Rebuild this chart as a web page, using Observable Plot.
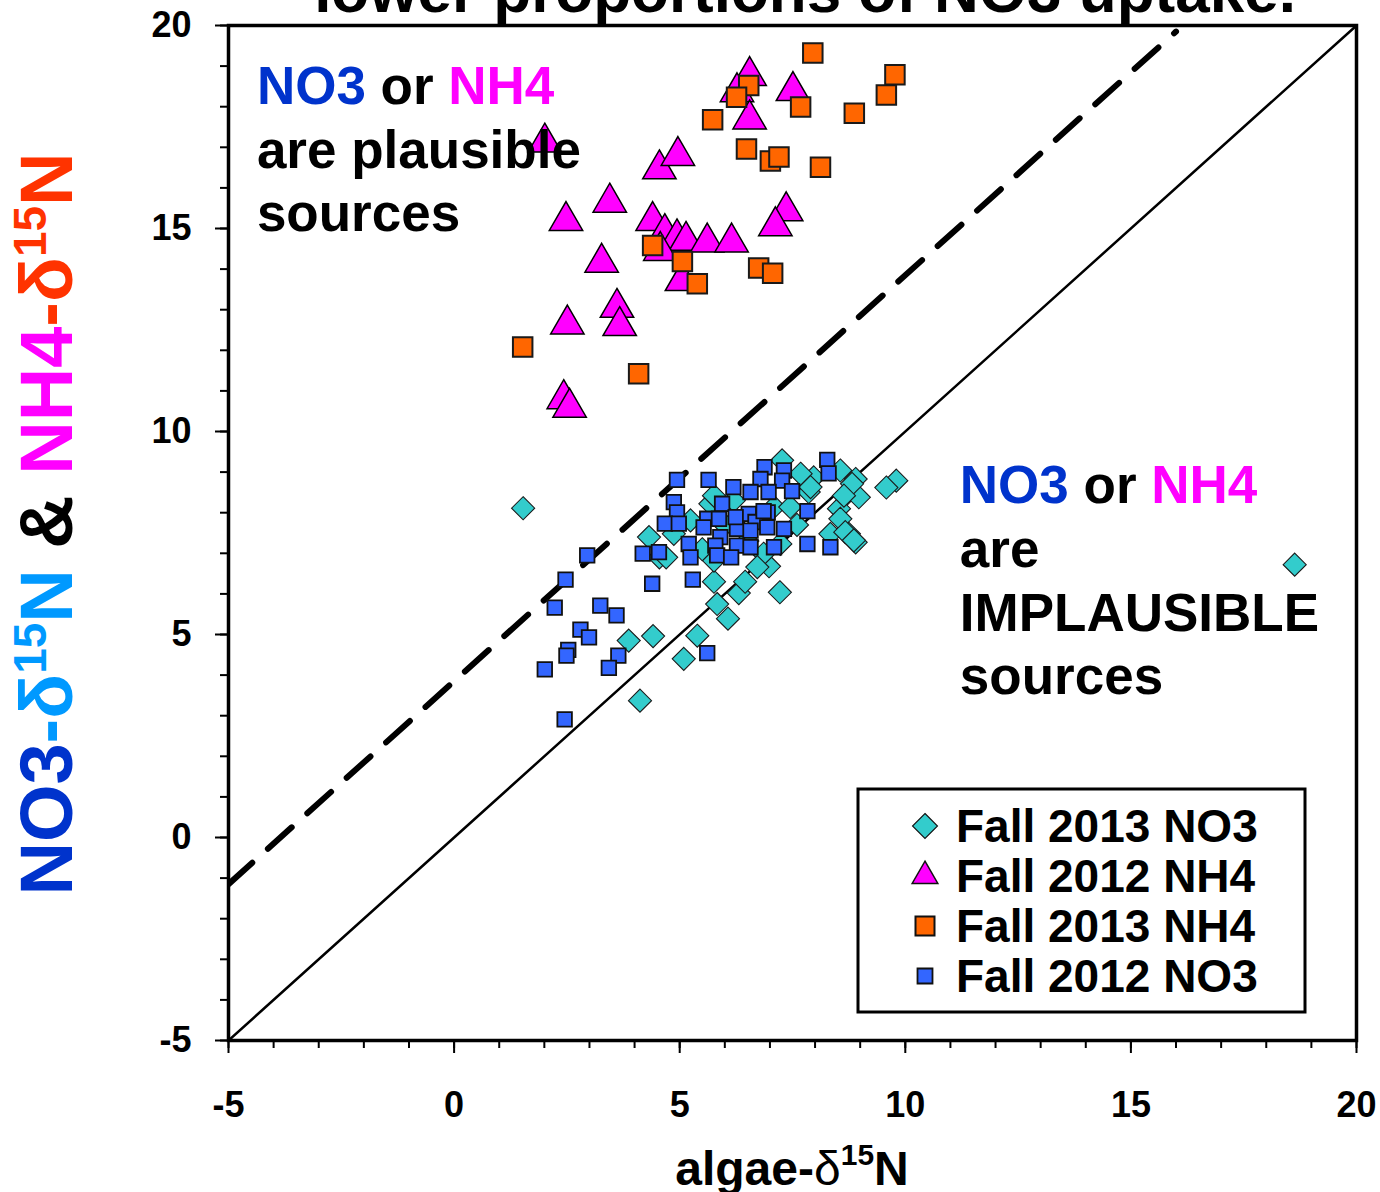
<!DOCTYPE html>
<html>
<head>
<meta charset="utf-8">
<script src="https://cdn.jsdelivr.net/npm/d3@7"></script>
<script src="https://cdn.jsdelivr.net/npm/@observablehq/plot@0.6"></script>
<style>
html, body { margin: 0; padding: 0; background: #fff; overflow: hidden; }
#chart svg { display: block; }
</style>
</head>
<body>
<div id="chart"></div>
<script>
// ---- Data ----
const seriesNames = ["Fall 2013 NO3", "Fall 2012 NH4", "Fall 2013 NH4", "Fall 2012 NO3"];

const fall2013NO3 = [
  [1.53,8.11],[7.27,9.29],[9.80,8.79],[9.58,8.62],[8.90,8.83],[8.56,9.04],[7.97,8.87],[7.68,8.96],
  [7.86,8.51],[8.71,8.47],[8.97,8.38],[8.53,8.10],[8.56,7.85],[8.34,7.48],[8.75,7.48],[8.90,7.27],
  [4.32,7.40],[4.55,6.90],[5.76,6.30],[5.83,5.75],[6.31,6.02],[6.07,5.39],[6.45,6.30],[6.98,6.68],
  [7.22,6.04],[3.87,4.85],[4.41,4.96],[5.39,4.97],[5.09,4.40],[4.12,3.37],[5.68,8.22],[5.76,8.42],
  [5.24,7.81],[7.09,8.14],[7.23,7.23],[6.86,6.99],[5.76,6.82],[4.87,7.48],[6.72,6.66],[18.63,6.72],
  [8.82,8.71],[8.64,8.42],[7.90,8.63],[7.45,8.14],[8.67,7.52],[8.86,7.32],[6.20,8.30],[6.50,7.30],
  [5.50,7.10],[6.00,7.70],[7.60,7.70],[4.70,6.90]
];

const fall2012NH4 = [
  [6.55,18.76],[6.27,18.36],[6.55,17.69],[7.51,18.39],[2.01,17.12],[4.55,16.46],[4.96,16.79],
  [3.45,15.64],[2.48,15.19],[4.40,15.19],[4.67,14.89],[4.94,14.76],[5.14,14.70],[5.61,14.66],
  [6.15,14.66],[4.57,14.45],[7.36,15.43],[7.12,15.06],[3.27,14.16],[5.05,13.71],[3.61,13.05],
  [3.67,12.60],[2.51,12.64],[2.43,10.80],[2.56,10.59]
];

const fall2013NH4 = [
  [7.95,19.32],[9.77,18.79],[6.53,18.52],[6.26,18.23],[7.68,17.99],[9.58,18.29],[8.87,17.84],
  [5.73,17.68],[6.48,16.96],[7.01,16.66],[7.20,16.76],[8.12,16.51],[4.40,14.58],[5.06,14.19],
  [6.75,14.03],[7.06,13.90],[5.39,13.64],[1.52,12.08],[4.09,11.42]
];

const fall2012NO3 = [
  [4.94,8.81],[5.64,8.81],[8.27,9.30],[8.30,8.97],[6.88,9.12],[7.31,9.04],[7.27,8.79],[6.79,8.83],
  [6.19,8.63],[6.57,8.51],[6.97,8.51],[7.49,8.53],[5.94,8.22],[4.87,8.26],[4.94,8.01],[7.83,8.04],
  [6.95,8.01],[6.53,7.97],[4.67,7.73],[4.98,7.73],[5.61,7.85],[5.87,7.85],[6.68,7.77],[6.27,7.60],
  [6.57,7.56],[6.94,7.64],[7.31,7.60],[5.53,7.64],[5.90,7.40],[5.20,7.23],[5.79,7.19],[6.27,7.19],
  [6.57,7.15],[7.09,7.15],[7.83,7.23],[8.34,7.15],[4.18,6.99],[4.54,7.03],[5.24,6.90],[5.83,6.95],
  [6.14,6.90],[2.95,6.95],[2.47,6.35],[4.39,6.25],[5.29,6.35],[2.23,5.66],[3.24,5.71],[3.60,5.47],
  [2.80,5.12],[2.99,4.93],[2.53,4.62],[2.49,4.48],[2.01,4.14],[3.64,4.48],[3.43,4.18],[5.61,4.54],
  [2.45,2.91],[6.86,8.04],[6.24,7.89]
];

// 1:1 line and offset (dashed) line
const oneToOneLine = [[-5,-5],[20,20]];
const dashedLine = [[-5,-1.15],[16.0,19.85]];

const majorTicks = [-5, 0, 5, 10, 15, 20];
const minorTicks = d3.range(-5, 21, 1);

// Annotation text positions (data units)
const annoLeft = {x: -4.36, lines: [18.05, 16.47, 14.92]};
const annoRight = {x: 11.22, lines: [8.23, 6.64, 5.08, 3.53]};

const colors = {
  cyan: "#33CCCC", magenta: "#FF00FF", orange: "#FF6600", blue: "#3366FF",
  navy: "#0033CC", sky: "#0099FF", red: "#FF3300"
};

const toObj = a => a.map(([x, y]) => ({x, y}));

const FONT = "'Liberation Sans', Arial, Helvetica, sans-serif";

const plot = Plot.plot({
  width: 1380,
  height: 1192,
  marginLeft: 228,
  marginRight: 24,
  marginTop: 25,
  marginBottom: 152,
  style: {fontFamily: FONT, background: "#fff", color: "#000"},
  x: {domain: [-5, 20]},
  y: {domain: [-5, 20]},
  marks: [
    Plot.line(toObj(oneToOneLine), {x: "x", y: "y", stroke: "#000", strokeWidth: 2.5, clip: true}),
    Plot.line(toObj(dashedLine), {x: "x", y: "y", stroke: "#000", strokeWidth: 6, strokeDasharray: "32,21", clip: true}),
    Plot.dot(toObj(fall2013NO3), {x: "x", y: "y", symbol: "diamond2", r: 10.4, fill: colors.cyan, stroke: "#1a1a1a", strokeWidth: 1.1}),
    Plot.dot(toObj(fall2012NH4), {x: "x", y: "y", symbol: "triangle", r: 12.4, fill: colors.magenta, stroke: "#000", strokeWidth: 1.5}),
    Plot.dot(toObj(fall2013NH4), {x: "x", y: "y", symbol: "square", r: 11, fill: colors.orange, stroke: "#1a1a1a", strokeWidth: 2}),
    Plot.dot(toObj(fall2012NO3), {x: "x", y: "y", symbol: "square", r: 8.2, fill: colors.blue, stroke: "#111", strokeWidth: 1.8}),
    Plot.axisX({ticks: minorTicks, tickSize: 8, tickFormat: () => "", label: null, strokeWidth: 2}),
    Plot.axisX({ticks: majorTicks, tickSize: 13, tickPadding: 38, tickFormat: d => String(d), label: null, strokeWidth: 2, fontSize: 36, fontWeight: "bold"}),
    Plot.axisY({ticks: minorTicks, tickSize: 8, tickFormat: () => "", label: null, strokeWidth: 2}),
    Plot.axisY({ticks: majorTicks, tickSize: 13, tickPadding: 24, tickFormat: d => String(d), label: null, strokeWidth: 2, fontSize: 36, fontWeight: "bold"}),
    Plot.frame({stroke: "#000", strokeWidth: 3.5})
  ]
});

document.getElementById("chart").appendChild(plot);

const svg = d3.select(plot);
const sx = plot.scale("x"), sy = plot.scale("y");

function rich(parent, x, y, parts, size, anchor) {
  const t = parent.append("text")
    .attr("x", x).attr("y", y)
    .attr("font-family", FONT)
    .attr("font-weight", "bold")
    .attr("font-size", size)
    .attr("text-anchor", anchor || "start");
  parts.forEach(p => {
    const ts = t.append("tspan").text(p.t).attr("fill", p.c || "#000");
    if (p.size) ts.attr("font-size", p.size);
    if (p.dy) ts.attr("dy", p.dy);
    if (p.w) ts.attr("font-weight", p.w);
  });
  return t;
}

// Title (clipped at top, as in reference)
rich(svg, 805, 12, [{t: "lower proportions of NO3 uptake."}], 62, "middle");

// Annotations
const ann = svg.append("g");
const labLeft = [
  [{t: "NO3", c: colors.navy}, {t: " or "}, {t: "NH4", c: colors.magenta}],
  [{t: "are plausible"}],
  [{t: "sources"}]
];
labLeft.forEach((parts, i) => rich(ann, sx.apply(annoLeft.x), sy.apply(annoLeft.lines[i]), parts, 53));
const labRight = [
  [{t: "NO3", c: colors.navy}, {t: " or "}, {t: "NH4", c: colors.magenta}],
  [{t: "are"}],
  [{t: "IMPLAUSIBLE"}],
  [{t: "sources"}]
];
labRight.forEach((parts, i) => rich(ann, sx.apply(annoRight.x), sy.apply(annoRight.lines[i]), parts, 53));

// Y axis label (rotated, multicolor)
const yl = svg.append("g").attr("transform", "translate(72,524) rotate(-90)");
rich(yl, 0, 0, [
  {t: "NO3", c: colors.navy},
  {t: "-δ", c: colors.sky},
  {t: "15", c: colors.sky, size: 46, dy: -26},
  {t: "N", c: colors.sky, size: 74, dy: 26},
  {t: " & ", c: "#000"},
  {t: "NH4", c: colors.magenta},
  {t: "-δ", c: colors.red},
  {t: "15", c: colors.red, size: 46, dy: -26},
  {t: "N", c: colors.red, size: 74, dy: 26}
], 74, "middle");

// X axis label
rich(svg, (sx.apply(-5) + sx.apply(20)) / 2, 1185, [
  {t: "algae-"},
  {t: "δ", w: "normal"},
  {t: "15", size: 30, dy: -20},
  {t: "N", size: 48, dy: 20}
], 48, "middle");

// Legend
const lg = svg.append("g");
lg.append("rect").attr("x", 858).attr("y", 789).attr("width", 447).attr("height", 223)
  .attr("fill", "#fff").attr("stroke", "#000").attr("stroke-width", 3);
const legendItems = [
  {name: seriesNames[0], type: d3.symbolDiamond2, size: 398, fill: colors.cyan, sw: 1.1},
  {name: seriesNames[1], type: d3.symbolTriangle2, size: 471, fill: colors.magenta, sw: 1.5},
  {name: seriesNames[2], type: d3.symbolSquare, size: 361, fill: colors.orange, sw: 2},
  {name: seriesNames[3], type: d3.symbolSquare, size: 225, fill: colors.blue, sw: 1.8}
];
legendItems.forEach((it, i) => {
  const cy = 826 + i * 50;
  lg.append("path").attr("d", d3.symbol(it.type, it.size)())
    .attr("transform", `translate(925,${cy})`)
    .attr("fill", it.fill).attr("stroke", "#111").attr("stroke-width", it.sw);
  lg.append("text").attr("x", 956).attr("y", cy + 16)
    .attr("text-anchor", "start")
    .attr("font-family", FONT).attr("font-weight", "bold").attr("font-size", 46)
    .attr("fill", "#000").text(it.name);
});
</script>
</body>
</html>
